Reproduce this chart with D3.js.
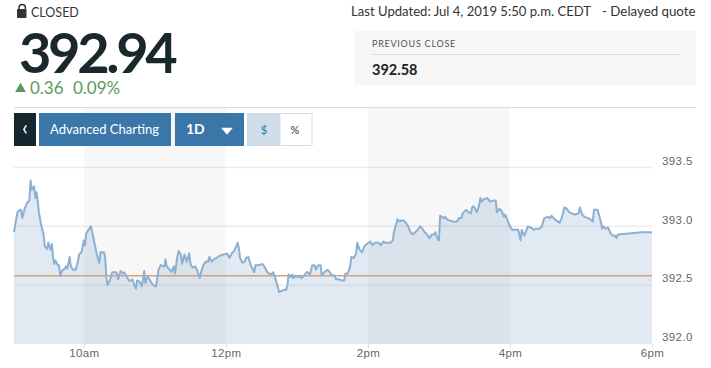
<!DOCTYPE html>
<html>
<head>
<meta charset="utf-8">
<script src="https://cdn.jsdelivr.net/npm/d3@7"></script>
<style>
  html, body { margin: 0; padding: 0; background: #fff; }
  svg { display: block; }
  text { font-family: Lato, sans-serif; }
  .axis text { font-family: "Liberation Sans", Arial, sans-serif; font-size: 11.5px; fill: #666; letter-spacing: .4px; }
</style>
</head>
<body>
<svg id="chart" width="711" height="368"></svg>
<script>
// minutes since midnight
let times = [541,543,544,546,547,548,550,552,554,555,556,558,559,560,561,562,564,566,567,569,570,572,573,574,575,576,578,579,580,582,583,585,586,588,589,591,593,595,596,598,600,601,602,604,606,608,610,611,613,614,617,618,619,620,622,624,627,628,629,631,633,634,636,638,640,641,642,644,645,647,649,651,652,654,655,657,660,661,663,665,667,668,669,670,672,674,676,677,679,680,682,683,685,687,689,690,691,692,694,696,698,699,701,703,705,706,708,710,715,721,723,725,727,730,731,732,
734,736,737,739,741,742,744,745,748,751,753,755,758,760,761,763,765,769,771,772,773,775,776,777,779,781,782,784,786,788,789,791,793,795,796,798,800,801,803,806,807,809,812,813,815,818,820,821,823,825,826,828,830,831,833,835,837,839,842,844,846,847,849,851,853,855,857,859,861,862,865,867,868,870,872,874,876,878,880,882,884,886,888,890,892,894,896,897,899,900,901,904,905,907,909,912,915,917,919,920,923,925,927,
928,929,930,932,934,935,936,938,941,943,946,948,949,951,953,955,956,958,960,962,964,965,967,969,970,972,973,975,977,978,980,982,985,987,989,992,994,995,997,999,1002,1004,1006,1008,1010,1012,1015,1018,1019,1021,1023,1026,1028,1030,1031,1034,1036,1038,1039,1041,1043,1045,1047,1049,1050,1051,1060,1071,1080];

let prices = [392.95,393.07,393.12,393.14,393.14,393.07,393.15,393.20,393.22,393.39,393.31,393.34,393.24,393.29,393.22,393.12,393.01,392.93,392.83,392.81,392.86,392.80,392.85,392.74,392.68,392.71,392.67,392.67,392.58,392.63,392.63,392.66,392.64,392.74,392.66,392.63,392.63,392.70,392.76,392.78,392.88,392.84,392.94,392.97,393.00,392.91,392.81,392.76,392.69,392.78,392.78,392.74,392.57,392.50,392.54,392.61,392.61,392.60,392.55,392.62,392.60,392.61,392.58,392.54,392.54,392.55,392.52,392.47,392.54,392.53,392.49,392.62,392.52,392.57,392.56,392.52,392.49,392.49,392.63,392.67,392.66,392.66,392.72,392.66,392.64,392.61,392.66,392.60,392.74,392.79,392.76,392.68,392.76,392.70,392.77,392.69,392.66,392.65,392.66,392.62,392.56,392.61,392.67,392.70,392.70,392.74,392.70,392.72,392.75,392.77,392.73,392.77,392.79,392.86,392.81,392.73,
392.69,392.70,392.73,392.74,392.67,392.65,392.61,392.67,392.67,392.68,392.65,392.61,392.59,392.61,392.58,392.52,392.44,392.46,392.46,392.50,392.59,392.57,392.59,392.56,392.58,392.57,392.58,392.56,392.58,392.61,392.61,392.59,392.67,392.67,392.63,392.67,392.67,392.58,392.61,392.63,392.62,392.59,392.58,392.55,392.55,392.54,392.54,392.60,392.60,392.66,392.74,392.73,392.77,392.86,392.80,392.78,392.83,392.85,392.87,392.84,392.86,392.86,392.86,392.84,392.87,392.86,392.86,392.86,392.88,392.95,393.06,393.04,393.05,393.05,393.03,393.00,392.95,392.93,392.95,392.97,393.00,392.98,392.95,392.93,392.90,392.93,392.93,392.95,392.89,392.88,393.09,393.07,393.08,393.06,393.05,393.04,393.04,393.07,393.07,393.11,393.14,393.12,393.11,
393.16,393.17,393.16,393.12,393.18,393.24,393.21,393.23,393.24,393.21,393.22,393.22,393.12,393.15,393.13,393.08,393.10,393.05,393.00,392.97,392.97,392.97,392.97,392.88,392.97,392.92,392.94,393.00,392.99,392.99,392.97,392.98,392.98,393.00,393.07,393.08,393.07,393.09,393.07,393.05,393.03,393.08,393.16,393.15,393.12,393.11,393.10,393.11,393.16,393.10,393.08,393.07,393.06,393.04,393.14,393.14,393.07,392.98,393.00,392.98,392.99,392.94,392.92,392.92,392.90,392.93,392.94,392.95,392.95];

let previousClose = 392.58;
let priceTicks = [392, 392.5, 393, 393.5];
let hourTicks = [600, 720, 840, 960, 1080];
let hourLabels = ['10am', '12pm', '2pm', '4pm', '6pm'];
let bands = [[600, 720], [840, 960]];

let plotLeft = 14, plotRight = 652, plotTop = 167.5, plotBottom = 344;

let svg = d3.select('#chart');
let data = times.map(function(t, i) { return {t: t, v: prices[i]}; });

let x = d3.scaleLinear().domain([d3.min(times), 1080]).range([plotLeft, plotRight]);
let y = d3.scaleLinear().domain([392, 393.5]).range([plotBottom, plotTop]);

// ===========  HEADER  ============

// lock
svg.append('path')
  .attr('d', 'M19 9V7.6a3.2 3.2 0 0 1 6.4 0V9')
  .attr('fill', 'none').attr('stroke', '#333').attr('stroke-width', 1.5);
svg.append('rect').attr('x', 17).attr('y', 9).attr('width', 9.5).attr('height', 9).attr('rx', 1).attr('fill', '#333');

svg.append('text').attr('x', 31).attr('y', 17).attr('font-size', 12.5).attr('fill', '#333').text('CLOSED');
svg.append('text').attr('x', 351).attr('y', 16).attr('font-size', 13.1).attr('fill', '#333')
  .text('Last Updated: Jul 4, 2019 5:50 p.m. CEDT');
svg.append('text').attr('x', 602).attr('y', 16).attr('font-size', 13.3).attr('fill', '#333').text('-  Delayed quote');

svg.append('text').attr('x', 19).attr('y', 73).attr('font-size', 56).attr('font-weight', 700)
  .attr('letter-spacing', -3.4).attr('fill', '#1a282e').text('392.94');

svg.append('path')
  .attr('d', d3.symbol(d3.symbolTriangle, 50))
  .attr('transform', 'translate(20.5,89)').attr('fill', '#5a9a5c');
svg.append('text').attr('x', 30).attr('y', 94).attr('font-size', 17).attr('fill', '#5a9a5c').text('0.36');
svg.append('text').attr('x', 73).attr('y', 94).attr('font-size', 17).attr('fill', '#5a9a5c').text('0.09%');

// previous close box
svg.append('rect').attr('x', 355).attr('y', 31).attr('width', 341).attr('height', 54).attr('fill', '#f6f6f6');
svg.append('line').attr('x1', 372).attr('x2', 680).attr('y1', 54.5).attr('y2', 54.5).attr('stroke', '#dedede');
svg.append('text').attr('x', 372).attr('y', 47).attr('font-size', 9).attr('fill', '#555').attr('letter-spacing', .75).text('PREVIOUS CLOSE');
svg.append('text').attr('x', 372).attr('y', 75).attr('font-size', 14.5).attr('font-weight', 700).attr('fill', '#222').text('392.58');

svg.append('line').attr('x1', 14).attr('x2', 696).attr('y1', 107.5).attr('y2', 107.5).attr('stroke', '#ddd');

// ===========  BANDS + GRID  ============

svg.selectAll('.band').data(bands).enter().append('rect')
  .attr('class', 'band')
  .attr('x', function(d) { return x(d[0]); })
  .attr('y', 108)
  .attr('width', function(d) { return x(d[1]) - x(d[0]); })
  .attr('height', plotBottom - 108)
  .attr('fill', '#f7f7f7');

// ===========  BUTTONS  ============

svg.append('rect').attr('x', 14).attr('y', 113).attr('width', 22).attr('height', 33).attr('fill', '#14262e');
svg.append('text').attr('x', 25).attr('y', 135).attr('text-anchor', 'middle').attr('font-size', 21).attr('fill', '#fff').text('‹');
svg.append('rect').attr('x', 39).attr('y', 113).attr('width', 132).attr('height', 33).attr('fill', '#3a77a8');
svg.append('text').attr('x', 50).attr('y', 134).attr('font-size', 13).attr('fill', '#fff').text('Advanced Charting');
svg.append('rect').attr('x', 175).attr('y', 113).attr('width', 69).attr('height', 33).attr('fill', '#3a77a8');
svg.append('text').attr('x', 186).attr('y', 134).attr('font-size', 14).attr('font-weight', 700).attr('fill', '#fff').text('1D');
svg.append('path')
  .attr('d', d3.symbol(d3.symbolTriangle, 50))
  .attr('transform', 'translate(227,130) rotate(180) scale(1.1,.75)').attr('fill', '#fff');
svg.append('rect').attr('x', 247.5).attr('y', 113.5).attr('width', 32.5).attr('height', 32).attr('fill', '#cfdeea').attr('stroke', '#cdd8e2');
svg.append('rect').attr('x', 280).attr('y', 113.5).attr('width', 32).attr('height', 32).attr('fill', '#fff').attr('stroke', '#d8dfe5');
svg.append('text').attr('x', 264).attr('y', 134).attr('text-anchor', 'middle').attr('font-size', 12).attr('fill', '#3a77a8').text('$');
svg.append('text').attr('x', 295).attr('y', 134).attr('text-anchor', 'middle').attr('font-size', 11).attr('fill', '#333').text('%');

// ===========  CHART  ============

let area = d3.area()
  .x(function(d) { return x(d.t); })
  .y0(y(392))
  .y1(function(d) { return y(d.v); });

let line = d3.line()
  .x(function(d) { return x(d.t); })
  .y(function(d) { return y(d.v); });

svg.append('path').datum(data).attr('d', area).attr('fill', '#4f83b5').attr('fill-opacity', .17);

svg.selectAll('.grid').data(priceTicks.slice(1)).enter().append('line')
  .attr('class', 'grid')
  .attr('x1', plotLeft).attr('x2', plotRight)
  .attr('y1', function(d) { return y(d); })
  .attr('y2', function(d) { return y(d); })
  .attr('stroke', '#9aa0a6').attr('stroke-opacity', .2).attr('stroke-width', 1.5);

svg.append('line')
  .attr('x1', plotLeft).attr('x2', plotRight)
  .attr('y1', y(previousClose)).attr('y2', y(previousClose))
  .attr('stroke', '#d99f76').attr('stroke-width', 1.5);

svg.append('path').datum(data).attr('d', line)
  .attr('fill', 'none').attr('stroke', '#8cb0d2').attr('stroke-width', 2).attr('stroke-linejoin', 'round');

// ===========  AXES  ============

let xAxis = d3.axisBottom(x)
  .tickValues(hourTicks)
  .tickFormat(function(d, i) { return hourLabels[i]; })
  .tickSize(4).tickPadding(1);
let xAxisG = svg.append('g').attr('class', 'axis').attr('transform', 'translate(0,' + plotBottom + ')').call(xAxis);
xAxisG.select('.domain').remove();
xAxisG.selectAll('line').attr('stroke', '#ddd');

let yAxis = d3.axisRight(y)
  .tickValues(priceTicks)
  .tickFormat(d3.format('.1f'))
  .tickSize(0).tickPadding(10);
let yAxisG = svg.append('g').attr('class', 'axis').attr('transform', 'translate(' + plotRight + ',0)').call(yAxis);
yAxisG.select('.domain').remove();
yAxisG.selectAll('text').attr('dy', '-0.28em');
</script>
</body>
</html>
